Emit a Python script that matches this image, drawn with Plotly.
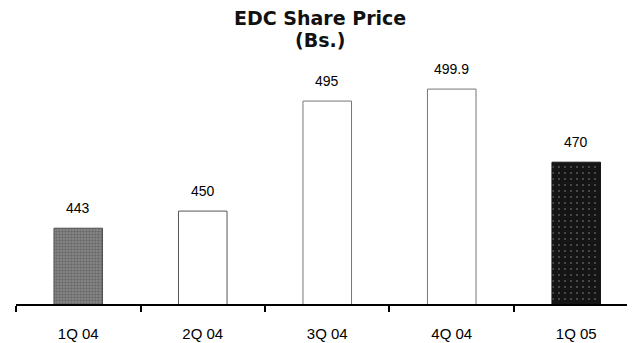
import plotly.graph_objects as go

categories = ["1Q 04", "2Q 04", "3Q 04", "4Q 04", "1Q 05"]
prices = [443, 450, 495, 499.9, 470]
bar_colors = ["#8c8c8c", "#ffffff", "#ffffff", "#ffffff", "#151515"]
line_colors = ["#505050", "#555555", "#777777", "#777777", "#151515"]
pattern_shapes = [".", "", "", "", "."]
pattern_fg = ["#222222", "#ffffff", "#ffffff", "#ffffff", "#555555"]
pattern_size = [3, 6, 6, 6, 6]
pattern_solidity = [0.5, 0.1, 0.1, 0.1, 0.06]
value_labels = [f"{v:g}" for v in prices]
title_lines = ["EDC Share Price", "(Bs.)"]

# page body has an 8px margin; figure sized to fill the rest of the window
W, H = 627, 335
L, R, T, B = 8, 0, 42, 39
plot_h = H - T - B
plot_w = W - L - R

fig = go.Figure()
fig.add_trace(go.Bar(
    x=categories, y=prices,
    marker=dict(color=bar_colors, line=dict(color=line_colors, width=1),
                pattern=dict(shape=pattern_shapes, fgcolor=pattern_fg, bgcolor=bar_colors,
                             size=pattern_size, solidity=pattern_solidity)),
    width=0.39,
    hoverinfo="skip",
))

for c, v, t in zip(categories, prices, value_labels):
    fig.add_annotation(x=c, y=v, text=t, showarrow=False, yanchor="middle",
                       yshift=20, font=dict(family="Liberation Sans, Arial", size=14, color="#000"))

for i, (line, fy) in enumerate(zip(title_lines, [10, 32])):
    fig.add_annotation(xref="paper", yref="paper",
                       x=(312 - L) / plot_w, y=(H - B - fy) / plot_h,
                       text=f"<b>{line}</b>", showarrow=False,
                       xanchor="center", yanchor="middle",
                       font=dict(family="DejaVu Sans", size=19, color="#111"))

fig.update_layout(
    width=W, height=H,
    margin=dict(l=L, r=R, t=T, b=B),
    paper_bgcolor="white", plot_bgcolor="white",
    showlegend=False,
    xaxis=dict(range=[-0.5, 4.472], showline=True, linecolor="#000", linewidth=2,
               ticks="outside", tickson="boundaries", ticklen=6, tickwidth=2, tickcolor="#000",
               ticklabelstandoff=15,
               showgrid=False, zeroline=False,
               tickfont=dict(family="Liberation Sans, Arial", size=15, color="#000")),
    yaxis=dict(range=[412, 412 + plot_h / 2.445], visible=False, showgrid=False, zeroline=False),
)

fig.write_html("out.html")
